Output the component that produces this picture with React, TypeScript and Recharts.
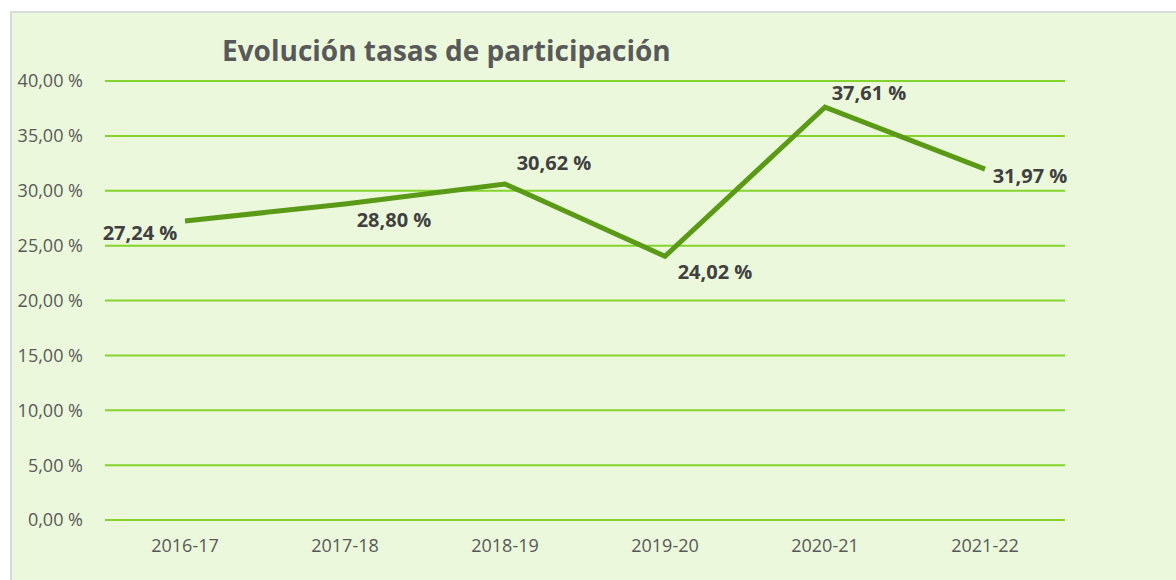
import { CartesianGrid, Line, LineChart, XAxis, YAxis } from "recharts";

const periods = ["2016-17", "2017-18", "2018-19", "2019-20", "2020-21", "2021-22"];
const rates = [27.24, 28.8, 30.62, 24.02, 37.61, 31.97];
const yTicks = [0, 5, 10, 15, 20, 25, 30, 35, 40];

const data = periods.map((period, i) => ({ period, rate: rates[i] }));

// where each value label sits relative to its point (dx, dy of text centre)
const labelOffsets = [
  [-45, 11],
  [49, 16],
  [49, -21],
  [50, 15],
  [44, -15],
  [45, 6],
];

const FONT = "'Open Sans', sans-serif";

const fmt = (v: number) => `${v.toFixed(2).replace(".", ",")} %`;

function ValueLabel(props: any) {
  const { x, y, value, index } = props;
  const [dx, dy] = labelOffsets[index] || [0, -12];
  return (
    <text
      x={x + dx}
      y={y + dy}
      textAnchor="middle"
      dominantBaseline="central"
      fill="#404040"
      fontSize={20}
      fontWeight={700}
      fontFamily={FONT}
    >
      {fmt(value)}
    </text>
  );
}

export default function App() {
  return (
    <div
      style={{
        position: "fixed",
        left: 10,
        top: 11,
        width: 1166,
        height: 569,
        background: "#ebf8dc",
        borderTop: "2px solid #d9d9d9",
        borderLeft: "2px solid #d9d9d9",
        boxSizing: "border-box",
      }}
    >
      <LineChart
        width={1164}
        height={567}
        data={data}
        margin={{ top: 68, right: 111, bottom: 0, left: 0 }}
        style={{ fontFamily: FONT }}
      >
        <text
          x={210}
          y={37}
          fill="#595959"
          fontSize={28}
          fontWeight={700}
          fontFamily={FONT}
          dominantBaseline="central"
        >
          Evolución tasas de participación
        </text>
        <CartesianGrid
          vertical={false}
          stroke="#7ed321"
          strokeWidth={2}
          strokeOpacity={0.95}
        />
        <XAxis
          dataKey="period"
          scale="band"
          axisLine={false}
          tickLine={false}
          tickSize={0}
          tickMargin={19}
          height={60}
          tick={{ fill: "#595959", fontSize: 18 }}
        />
        <YAxis
          domain={[0, 40]}
          ticks={yTicks}
          axisLine={false}
          tickLine={false}
          tickSize={0}
          tickMargin={22}
          width={93}
          tickFormatter={fmt}
          tick={{ fill: "#595959", fontSize: 18 }}
        />
        <Line
          dataKey="rate"
          stroke="#5a9a16"
          strokeWidth={5}
          dot={false}
          isAnimationActive={false}
          label={<ValueLabel />}
        />
      </LineChart>
    </div>
  );
}
